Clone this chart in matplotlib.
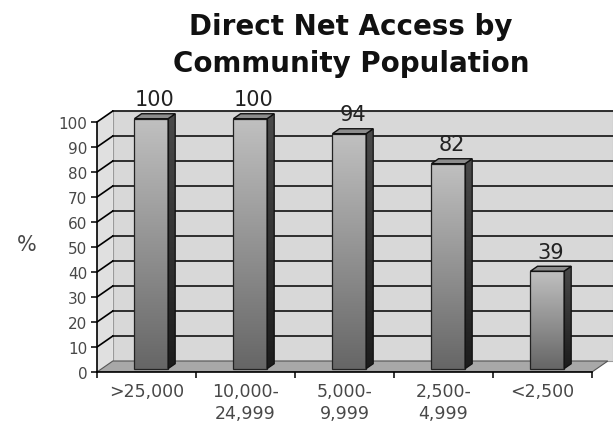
import numpy as np
import matplotlib
matplotlib.use("Agg")
import matplotlib.pyplot as plt
from matplotlib.patches import Polygon

categories = [">25,000", "10,000-\n24,999", "5,000-\n9,999", "2,500-\n4,999", "<2,500"]
values = [100, 100, 94, 82, 39]
yticks = [0, 10, 20, 30, 40, 50, 60, 70, 80, 90, 100]
title_lines = ["Direct Net Access by", "Community Population"]
ylabel = "%"

plt.rcParams['font.family'] = ['DejaVu Sans']

W, H = 613, 427
fig = plt.figure(figsize=(W / 100, H / 100), dpi=100)

# pixel geometry of the plot box
x0_px, y0_px = 97, 373
px_per_cat, px_per_unit = 99, 2.5
xmax = 5.21
DX, DY = 0.16, 4.4            # depth offset in data units
ytop = 100 + DY + 0.6

ax = fig.add_axes([x0_px / W, (H - y0_px) / H,
                   xmax * px_per_cat / W, ytop * px_per_unit / H])
ax.set_xlim(0, xmax)
ax.set_ylim(0, ytop)

n = len(categories)
wall_c = "#d8d8d8"
side_c = "#e0e0e0"
floor_c = "#a8a8a8"
grid_c = "#2e2e2e"

# back wall
ax.add_patch(Polygon([(DX, DY), (xmax, DY), (xmax, 100 + DY), (DX, 100 + DY)],
                     closed=True, facecolor=wall_c, edgecolor="#9a9a9a", lw=0.8, zorder=1))
# left side wall
ax.add_patch(Polygon([(0, 0), (DX, DY), (DX, 100 + DY), (0, 100)],
                     closed=True, facecolor=side_c, edgecolor="none", zorder=1))
# floor
ax.add_patch(Polygon([(0, 0), (n, 0), (n + DX, DY), (DX, DY)],
                     closed=True, facecolor=floor_c, edgecolor="#555555", lw=0.8, zorder=1.5))

# gridlines on the walls
for v in yticks[1:]:
    ax.plot([DX, xmax], [v + DY, v + DY], color=grid_c, lw=1.4, zorder=2)
    ax.plot([0, DX], [v, v + DY], color="black", lw=1.2, zorder=2)

# bars
bw = 0.34
f0, f1 = 0.3, 0.75
grad = np.linspace(0, 1, 256).reshape(-1, 1)
front_cmap = matplotlib.colors.LinearSegmentedColormap.from_list("fr", ["#666666", "#c0c0c0"])
side_cmap = matplotlib.colors.LinearSegmentedColormap.from_list("sd", ["#1c1c1c", "#4a4a4a"])
for i, v in enumerate(values):
    xl = i + 0.5 - bw / 2 + f0 * DX
    xr = xl + bw
    yb = f0 * DY
    yt = v + f0 * DY
    ddx = (f1 - f0) * DX
    ddy = (f1 - f0) * DY
    front = Polygon([(xl, yb), (xr, yb), (xr, yt), (xl, yt)], closed=True,
                    facecolor="none", edgecolor="#222222", lw=0.9, zorder=5)
    ax.add_patch(front)
    im = ax.imshow(grad, extent=[xl, xr, yb, yt], origin="lower", cmap=front_cmap,
                   aspect="auto", interpolation="bilinear", zorder=4)
    im.set_clip_path(front)
    side = Polygon([(xr, yb), (xr + ddx, yb + ddy), (xr + ddx, yt + ddy), (xr, yt)],
                   closed=True, facecolor="none", edgecolor="#111111", lw=0.9, zorder=5)
    ax.add_patch(side)
    im2 = ax.imshow(grad, extent=[xr, xr + ddx, yb, yt + ddy], origin="lower", cmap=side_cmap,
                    aspect="auto", interpolation="bilinear", zorder=4)
    im2.set_clip_path(side)
    ax.add_patch(Polygon([(xl, yt), (xr, yt), (xr + ddx, yt + ddy), (xl + ddx, yt + ddy)],
                         closed=True, facecolor="#8c8c8c", edgecolor="#111111", lw=1.0, zorder=5))
    ax.text((xl + xr) / 2 + ddx / 2, v + 9, f"{v}", ha="center", va="center",
            fontsize=15, color="#222222", clip_on=False, zorder=6)

ax.set_xlim(0, xmax)
ax.set_ylim(0, ytop)

# axes / spines
for s in ["top", "right"]:
    ax.spines[s].set_visible(False)
ax.spines["left"].set_bounds(0, 100)
ax.spines["bottom"].set_bounds(0, n)
ax.spines["left"].set_zorder(7)
ax.spines["bottom"].set_zorder(7)
ax.spines["left"].set_linewidth(1.2)
ax.spines["bottom"].set_linewidth(1.2)

ax.set_yticks(yticks)
ax.set_yticklabels([str(t) for t in yticks])
ax.tick_params(axis="y", direction="out", length=4, width=1.1, pad=3,
               labelsize=11, labelcolor="#484848")
ax.set_xticks(np.arange(n) + 0.5)
ax.set_xticklabels(categories)
ax.set_xticks(np.arange(n + 1), minor=True)
ax.tick_params(axis="x", which="major", length=0, pad=7, labelsize=12.5, labelcolor="#484848")
ax.tick_params(axis="x", which="minor", direction="out", length=4, width=1.1)
for lab in ax.get_xticklabels():
    lab.set_linespacing(1.3)

fig.text(27 / W, 1 - 245 / H, ylabel, ha="center", va="center", fontsize=15, color="#484848")
fig.text(351 / W, 1 - 27 / H, title_lines[0], ha="center", va="center", fontsize=20,
         fontweight="bold", color="#111111")
fig.text(351 / W, 1 - 64 / H, title_lines[1], ha="center", va="center", fontsize=20,
         fontweight="bold", color="#111111")

fig.savefig("out.png", dpi=100, facecolor="white")
